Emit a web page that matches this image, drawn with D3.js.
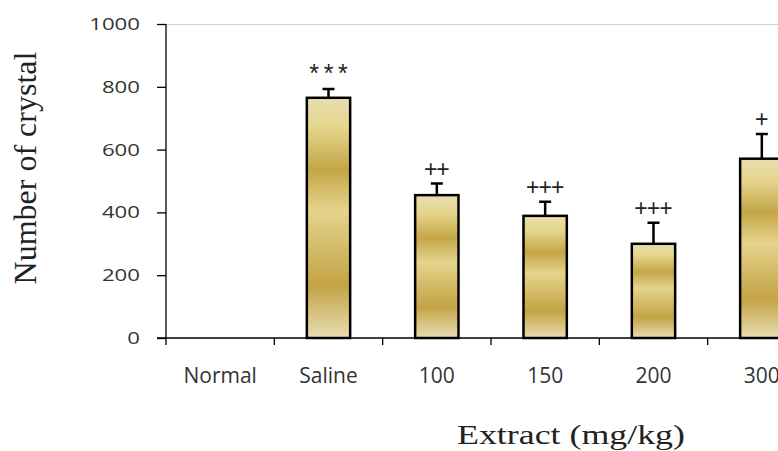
<!DOCTYPE html>
<html>
<head>
<meta charset="utf-8">
<script src="https://cdn.jsdelivr.net/npm/d3@7"></script>
<style>
  body { margin: 0; background: #fff; }
  svg { display: block; }
</style>
</head>
<body>
<svg width="778" height="451"></svg>
<script>
var categories = ["Normal", "Saline", "100", "150", "200", "300"];
var values = [0, 765, 455, 389, 300, 571];
var errors = [0, 28, 37, 45, 67, 79];
var marks = ["", "***", "++", "+++", "+++", "+"];
var yTicks = [0, 200, 400, 600, 800, 1000];

function main() {
    var svg = d3.select("svg");

    var left = 166, top = 24, bottom = 338, band = 108.33;

    var x = d3.scaleBand()
        .domain(categories)
        .range([left, left + band * categories.length])
        .padding(0);

    var y = d3.scaleLinear().domain([0, 1000]).range([bottom, top]);

    var barW = x.bandwidth() * 0.4;

    // gold striped fill
    var grad = svg.append("defs").append("linearGradient")
        .attr("id", "gold")
        .attr("x1", 0).attr("y1", 0).attr("x2", 0).attr("y2", 1);
    [[0, "#e8ddb0"], [0.12, "#e5d68d"], [0.3, "#c4a647"], [0.47, "#e5d48c"],
     [0.78, "#c3a345"], [1, "#e8ddb2"]].forEach(function(s) {
        grad.append("stop").attr("offset", s[0]).attr("stop-color", s[1]);
    });

    // top border of plot area
    svg.append("line")
        .attr("x1", left).attr("x2", 778)
        .attr("y1", top + 0.5).attr("y2", top + 0.5)
        .attr("stroke", "#d0d0d0").attr("stroke-width", 1);

    var data = categories.map(function(c, i) {
        return { cat: c, value: values[i], err: errors[i], mark: marks[i] };
    });

    var g = svg.append("g");
    var bars = data.filter(function(d) { return d.value > 0; });

    // error bars
    g.selectAll(".err").data(bars).enter().append("path")
        .attr("class", "err")
        .attr("d", function(d) {
            var cx = x(d.cat) + x.bandwidth() / 2;
            return "M" + cx + "," + y(d.value) + "V" + y(d.value + d.err) +
                   "M" + (cx - 6) + "," + y(d.value + d.err) + "H" + (cx + 6);
        })
        .attr("stroke", "#000").attr("stroke-width", 2.5).attr("fill", "none");

    g.selectAll(".bar").data(bars).enter().append("rect")
        .attr("class", "bar")
        .attr("x", function(d) { return x(d.cat) + (x.bandwidth() - barW) / 2; })
        .attr("y", function(d) { return y(d.value); })
        .attr("width", barW)
        .attr("height", function(d) { return y(0) - y(d.value); })
        .attr("fill", "url(#gold)")
        .attr("stroke", "#000").attr("stroke-width", 2.5);

    // significance marks
    g.selectAll(".mark").data(bars).enter().append("text")
        .attr("class", "mark")
        .attr("x", function(d) { return x(d.cat) + x.bandwidth() / 2; })
        .attr("y", function(d) { return y(d.value + d.err) - (d.mark[0] === "*" ? 7 : 7); })
        .attr("text-anchor", "middle")
        .attr("textLength", function(d) { return d.mark.length * 12.8; })
        .attr("lengthAdjust", "spacing")
        .style("font-family", "'Liberation Sans', Arial, sans-serif")
        .style("font-size", function(d) { return d.mark[0] === "*" ? "25px" : "23px"; })
        .style("fill", "#222")
        .text(function(d) { return d.mark; });

    // y axis
    var yAxis = svg.append("g")
        .attr("transform", "translate(" + left + ",0)")
        .call(d3.axisLeft(y).tickValues(yTicks).tickSize(9).tickPadding(17).tickFormat(d3.format("d")));
    yAxis.select(".domain").attr("d", "M0," + top + "V" + bottom).attr("stroke-width", 1.3);
    yAxis.selectAll(".tick line").attr("stroke-width", 1.3);
    yAxis.selectAll("text")
        .style("font-family", "'Open Sans', sans-serif")
        .style("font-size", "17px")
        .style("fill", "#333")
        .attr("textLength", function(d) { return String(d).length * 12.7; })
        .attr("lengthAdjust", "spacingAndGlyphs");

    // x axis: ticks on category boundaries
    var xAxis = svg.append("g").attr("transform", "translate(0," + bottom + ")");
    xAxis.append("line")
        .attr("x1", left - 9).attr("x2", 778)
        .attr("stroke", "#000").attr("stroke-width", 1.3);
    xAxis.selectAll(".xt").data(categories).enter().append("line")
        .attr("class", "xt")
        .attr("x1", function(d) { return x(d); }).attr("x2", function(d) { return x(d); })
        .attr("y1", 0).attr("y2", 7)
        .attr("stroke", "#000").attr("stroke-width", 1.3);
    xAxis.selectAll(".xl").data(categories).enter().append("text")
        .attr("class", "xl")
        .attr("x", function(d) { return x(d) + x.bandwidth() / 2; })
        .attr("y", 45)
        .attr("text-anchor", "middle")
        .style("font-family", "'Open Sans', sans-serif")
        .style("font-size", "21px")
        .style("fill", "#333")
        .text(function(d) { return d; });

    // axis titles
    svg.append("text")
        .attr("transform", "translate(36," + 168 + ") rotate(-90)")
        .attr("text-anchor", "middle")
        .style("font-family", "'Liberation Serif', 'Times New Roman', serif")
        .style("font-size", "32px")
        .style("fill", "#222")
        .text("Number of crystal");

    svg.append("text")
        .attr("x", 571).attr("y", 444)
        .attr("text-anchor", "middle")
        .attr("textLength", 228)
        .attr("lengthAdjust", "spacingAndGlyphs")
        .style("font-family", "'Liberation Serif', 'Times New Roman', serif")
        .style("font-size", "28px")
        .style("fill", "#222")
        .text("Extract (mg/kg)");
}
main();
</script>
</body>
</html>
